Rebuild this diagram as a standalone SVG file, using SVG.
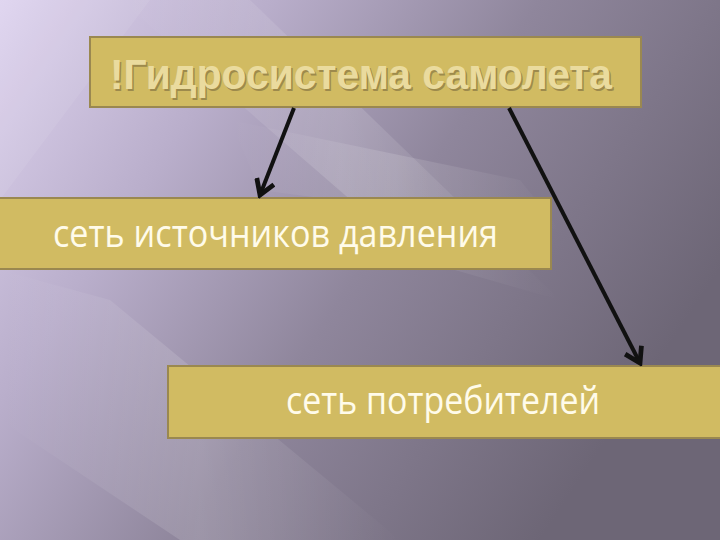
<svg xmlns="http://www.w3.org/2000/svg" width="720" height="540" viewBox="0 0 720 540">
<defs>
<linearGradient id="bg" x1="0" y1="0" x2="1" y2="0.5">
<stop offset="0" stop-color="#ded3ef"/>
<stop offset="0.3" stop-color="#b9aecb"/>
<stop offset="0.6" stop-color="#8f869c"/>
<stop offset="1" stop-color="#6d6676"/>
</linearGradient>
<linearGradient id="streak" x1="0" y1="0" x2="1" y2="0">
<stop offset="0" stop-color="#ffffff" stop-opacity="0"/>
<stop offset="0.5" stop-color="#ffffff" stop-opacity="0.14"/>
<stop offset="1" stop-color="#ffffff" stop-opacity="0"/>
</linearGradient>
<marker id="arr" viewBox="0 0 12 12" refX="10" refY="6" markerWidth="5.5" markerHeight="5.5" orient="auto" markerUnits="strokeWidth">
<polyline points="2,1 10,6 2,11" fill="none" stroke="#111" stroke-width="2.6" stroke-linejoin="miter"/>
</marker>
</defs>
<style>
.box{fill:#d1bb62;stroke:#9a8850;stroke-width:2}
.title{font-family:"Liberation Sans",Arial,sans-serif;font-weight:bold;font-size:43px;fill:#eadb9e}
.shadow{font-family:"Liberation Sans",Arial,sans-serif;font-weight:bold;font-size:43px;fill:#9d8a4c}
.lbl{font-family:"Open Sans","Noto Sans",sans-serif;font-size:38px;fill:#fffbea}
.conn{stroke:#111;stroke-width:4;fill:none;marker-end:url(#arr)}
</style>
<rect width="720" height="540" fill="url(#bg)"/>
<g>
<polygon points="0,270 110,300 400,540 180,540 0,420" fill="url(#streak)"/>
<polygon points="120,0 250,0 560,300 420,260" fill="url(#streak)"/>
<polygon points="230,120 520,180 560,230 260,190" fill="url(#streak)"/>
<polygon points="0,0 150,0 0,200" fill="#ffffff" opacity="0.07"/>
</g>
<g id="node-hydro">
<rect class="box" x="90" y="37" width="551" height="70"/>
<text class="shadow" x="111.5" y="90.5" textLength="502" lengthAdjust="spacingAndGlyphs">!Гидросистема самолета</text>
<text class="title" x="110" y="89" textLength="502" lengthAdjust="spacingAndGlyphs">!Гидросистема самолета</text>
</g>
<g id="node-sources">
<rect class="box" x="-1" y="198" width="552" height="71"/>
<text class="lbl" x="53" y="247" textLength="445" lengthAdjust="spacingAndGlyphs">сеть источников давления</text>
</g>
<g id="node-consumers">
<rect class="box" x="168" y="366" width="553" height="72"/>
<text class="lbl" x="286" y="414" textLength="314" lengthAdjust="spacingAndGlyphs">сеть потребителей</text>
</g>
<g id="connectors">
<line class="conn" x1="294" y1="108" x2="260" y2="195"/>
<line class="conn" x1="509" y1="108" x2="640" y2="363"/>
</g>
</svg>
